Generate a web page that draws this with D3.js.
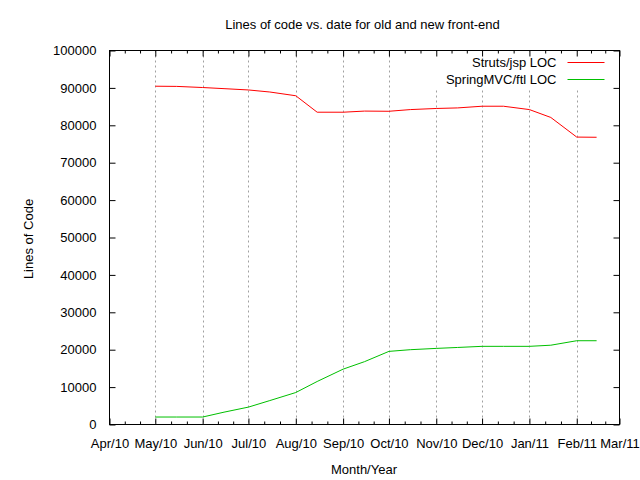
<!DOCTYPE html>
<html>
<head>
<meta charset="utf-8">
<script src="https://cdn.jsdelivr.net/npm/d3@7"></script>
<style>
  body { margin: 0; background: #fff; }
  text { font-family: "Liberation Sans", Arial, sans-serif; font-size: 13px; fill: #000; }
</style>
</head>
<body>
<div id="chart-area"></div>
<script>
// data: snapshots on the 1st and 15th of each month
var dates = ["2010-05-01", "2010-05-15", "2010-06-01", "2010-06-15", "2010-07-01", "2010-07-15",
             "2010-08-01", "2010-08-15", "2010-09-01", "2010-09-15", "2010-10-01", "2010-10-15",
             "2010-11-01", "2010-11-15", "2010-12-01", "2010-12-15", "2011-01-01", "2011-01-15",
             "2011-02-01", "2011-02-14"];
var strutsLoc = [90450, 90400, 90100, 89800, 89450, 88900, 87900, 83500, 83500, 83800,
                 83750, 84200, 84500, 84650, 85100, 85100, 84200, 82100, 76850, 76800];
var springLoc = [2000, 2000, 2000, 3300, 4650, 6400, 8550, 11500, 14800, 16800,
                 19550, 20000, 20350, 20600, 20900, 20900, 20900, 21200, 22400, 22400];
var yTicks = [0, 10000, 20000, 30000, 40000, 50000, 60000, 70000, 80000, 90000, 100000];
var seriesNames = ["Struts/jsp LOC", "SpringMVC/ftl LOC"];
var seriesColors = ["#ff0000", "#00c000"];

var parse = d3.utcParse("%Y-%m-%d");
var fmt = d3.utcFormat("%b/%y");

var svg = d3.select("#chart-area").append("svg")
    .attr("width", 640)
    .attr("height", 480);

var pLeft = 109.5, pRight = 619.5, pTop = 50.5, pBottom = 424.5;

var x = d3.scaleUtc()
    .domain([parse("2010-04-01"), parse("2011-03-01")])
    .range([pLeft, pRight]);

var y = d3.scaleLinear()
    .domain([0, 100000])
    .range([pBottom, pTop]);

var months = d3.utcMonth.range(parse("2010-04-01"), d3.utcDay.offset(parse("2011-03-01"), 1));
var minor = [];
for (var i = 0; i < months.length - 1; i++) {
    var a = +months[i], b = +months[i + 1];
    minor.push(new Date(a + (b - a) / 3), new Date(a + 2 * (b - a) / 3));
}

// vertical grid (dotted)
svg.append("g").selectAll("line")
    .data(months.slice(1, -1))
    .enter().append("line")
    .attr("x1", d => Math.round(x(d)) + 0.5)
    .attr("x2", d => Math.round(x(d)) + 0.5)
    .attr("y1", pTop)
    .attr("y2", pBottom)
    .attr("stroke", "#a0a0a0")
    .attr("stroke-dasharray", "2,3");

// opaque key area
svg.append("rect")
    .attr("x", 434).attr("y", pTop + 1)
    .attr("width", pRight - 434 - 1).attr("height", 37)
    .attr("fill", "#fff");

// axes
function tickAxis(axis, pos, vals, size, horiz) {
    var g = svg.append("g")
        .attr("transform", horiz ? "translate(0," + pos + ")" : "translate(" + pos + ",0)")
        .call(axis.tickValues(vals).tickSizeInner(size).tickSizeOuter(0));
    g.select(".domain").remove();
    g.selectAll(".tick line").attr("stroke", "#000");
    g.selectAll("text")
        .style("font-size", "13px")
        .style("font-family", "Liberation Sans, Arial, sans-serif");
    return g;
}

tickAxis(d3.axisBottom(x).tickFormat(fmt).tickPadding(14), pBottom, months, -6, true);
tickAxis(d3.axisBottom(x).tickFormat(""), pBottom, minor, -3, true);
tickAxis(d3.axisTop(x).tickFormat(""), pTop, months, -6, true);
tickAxis(d3.axisTop(x).tickFormat(""), pTop, minor, -3, true);
tickAxis(d3.axisLeft(y).tickFormat(d3.format("d")).tickPadding(13), pLeft, yTicks, -6, false);
tickAxis(d3.axisRight(y).tickFormat(""), pRight, yTicks, -6, false);

// border
svg.append("rect")
    .attr("x", pLeft).attr("y", pTop)
    .attr("width", pRight - pLeft).attr("height", pBottom - pTop)
    .attr("fill", "none").attr("stroke", "#000");

// lines
var line = d3.line()
    .x((d, i) => x(parse(dates[i])))
    .y(d => y(d));

[strutsLoc, springLoc].forEach((s, k) => {
    svg.append("path")
        .datum(s)
        .attr("d", line)
        .attr("fill", "none")
        .attr("stroke", seriesColors[k])
        .attr("stroke-width", 1);
});

// key
seriesNames.forEach((n, k) => {
    var ky = 62.5 + k * 17;
    svg.append("text")
        .attr("x", 556.5).attr("y", ky + 4.6)
        .attr("text-anchor", "end")
        .text(n);
    svg.append("line")
        .attr("x1", 567.5).attr("x2", 604.5)
        .attr("y1", ky).attr("y2", ky)
        .attr("stroke", seriesColors[k]);
});

// labels
svg.append("text")
    .attr("x", 362.5).attr("y", 29)
    .attr("text-anchor", "middle")
    .text("Lines of code vs. date for old and new front-end");

svg.append("text")
    .attr("x", 364).attr("y", 473.5)
    .attr("text-anchor", "middle")
    .text("Month/Year");

svg.append("text")
    .attr("transform", "translate(32.5,239) rotate(-90)")
    .attr("text-anchor", "middle")
    .text("Lines of Code");
</script>
</body>
</html>
